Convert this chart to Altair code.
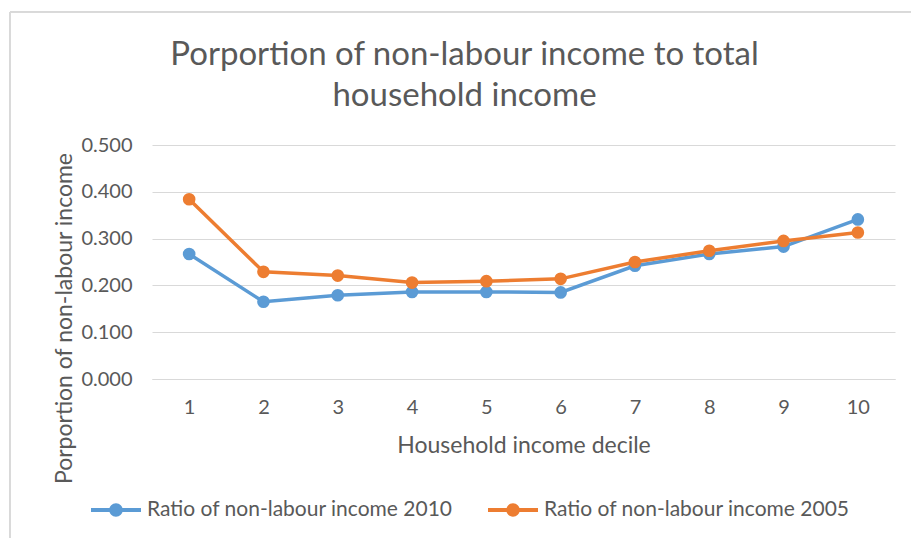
import altair as alt
import pandas as pd

deciles = [1, 2, 3, 4, 5, 6, 7, 8, 9, 10]
ratio_2010 = [0.267, 0.165, 0.179, 0.186, 0.186, 0.185, 0.242, 0.267, 0.283, 0.341]
ratio_2005 = [0.384, 0.229, 0.221, 0.206, 0.209, 0.214, 0.250, 0.274, 0.295, 0.313]
series_names = ["Ratio of non-labour income 2010", "Ratio of non-labour income 2005"]
series_colors = ["#5B9BD5", "#ED7D31"]

rows = []
for d, v in zip(deciles, ratio_2010):
    rows.append({"decile": d, "value": v, "series": series_names[0]})
for d, v in zip(deciles, ratio_2005):
    rows.append({"decile": d, "value": v, "series": series_names[1]})
df = pd.DataFrame(rows)

TXT = "#595959"
GRID = "#D9D9D9"

color = alt.Color(
    "series:N",
    scale=alt.Scale(domain=series_names, range=series_colors),
    sort=series_names,
    legend=alt.Legend(
        title=None,
        orient="none",
        direction="horizontal",
        legendX=-61,
        legendY=340,
        symbolType="M-1,-0.08H1V0.08H-1Z M0.27,0 A0.27,0.27 0 1,1 -0.27,0 A0.27,0.27 0 1,1 0.27,0Z",
        symbolSize=2500,
        symbolStrokeWidth=0,
        labelFontSize=21,
        labelColor=TXT,
        labelOffset=6,
        columnPadding=35,
        labelLimit=400,
    ),
)

x = alt.X(
    "decile:O",
    scale=alt.Scale(type="point", padding=0.5),
    axis=alt.Axis(
        title="Household income decile",
        labelAngle=0,
        labelPadding=18,
        ticks=False,
        domainColor=GRID,
        grid=False,
        titleY=66,
        titleBaseline="middle",
    ),
)
y = alt.Y(
    "value:Q",
    scale=alt.Scale(domain=[0, 0.5]),
    axis=alt.Axis(
        title="Porportion of non-labour income",
        values=[0, 0.1, 0.2, 0.3, 0.4, 0.5],
        format=".3f",
        ticks=False,
        domain=False,
        labelPadding=20,
        gridColor=GRID,
        titleX=-88,
        titleY=173,
        titleAngle=270,
        titleAlign="center",
        titleBaseline="middle",
    ),
)

layers = []
for name in series_names:
    base = alt.Chart(df).transform_filter(alt.datum.series == name)
    layers.append(base.mark_line(strokeWidth=3.5).encode(x=x, y=y, color=color))
    layers.append(base.mark_point(filled=True, size=160, opacity=1).encode(x=x, y=y, color=color))

border_top = alt.Chart(df).mark_rule(color=GRID, strokeWidth=1).encode(
    x=alt.value(-142), x2=alt.value(760), y=alt.value(-133)
)
border_left = alt.Chart(df).mark_rule(color=GRID, strokeWidth=1).encode(
    x=alt.value(-142), y=alt.value(-133), y2=alt.value(400)
)

chart = alt.layer(border_top, border_left, *layers).properties(
    width=743,
    height=234,
    autosize=alt.AutoSizeParams(type="none"),
    padding={"left": 152, "top": 145, "right": 16, "bottom": 159},
    title=alt.TitleParams(
        text=["Porportion of non-labour income to total", "household income"],
        fontSize=33,
        font="Lato",
        fontWeight="normal",
        color=TXT,
        anchor="middle",
        baseline="bottom",
        dx=-59,
        dy=134,
        offset=0,
        lineHeight=41,
    ),
).configure(font="Lato").configure_axis(
    labelFontSize=20,
    labelColor=TXT,
    titleFontSize=23,
    titleColor=TXT,
    titleFontWeight="normal",
).configure_view(stroke=None)

chart.save("out.html", embed_options={"renderer": "svg", "actions": False})
